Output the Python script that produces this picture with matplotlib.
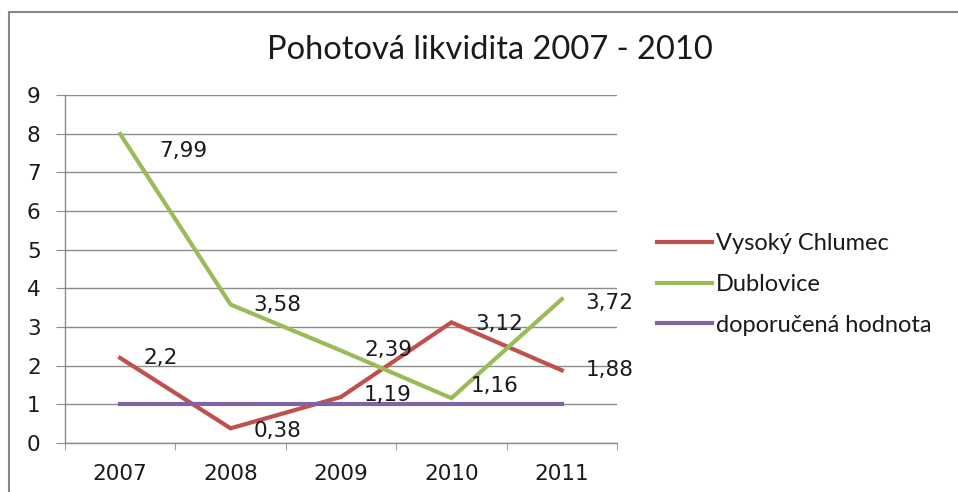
import matplotlib
matplotlib.use("Agg")
import matplotlib.pyplot as plt
from matplotlib.patches import Rectangle

# data
years = ["2007", "2008", "2009", "2010", "2011"]
vysoky_chlumec = [2.2, 0.38, 1.19, 3.12, 1.88]
dublovice = [7.99, 3.58, 2.39, 1.16, 3.72]
doporucena = [1, 1, 1, 1, 1]
vc_labels = ["2,2", "0,38", "1,19", "3,12", "1,88"]
du_labels = ["7,99", "3,58", "2,39", "1,16", "3,72"]

RED = "#C0504D"
GREEN = "#9BBB59"
PURPLE = "#8064A2"
GRID = "#8c8c8c"
TXT_FONT = ["Lato", "DejaVu Sans"]

fig = plt.figure(figsize=(9.58, 4.92), dpi=100)
ax = fig.add_axes([65 / 958, 1 - 443 / 492, 552 / 958, 348 / 492])

x = list(range(len(years)))
ax.plot(x, vysoky_chlumec, color=RED, lw=3, label="Vysoký Chlumec",
        solid_joinstyle="miter", zorder=3)
ax.plot(x, dublovice, color=GREEN, lw=3, label="Dublovice",
        solid_joinstyle="miter", zorder=3)
ax.plot(x, doporucena, color=PURPLE, lw=3, label="doporučená hodnota", zorder=3)

# data labels (offsets in pixels, mostly to the right of the point)
du_off = [(63, -17), (47, 0), (47, 1), (43, 12), (48, -4)]
vc_off = [(40, 0), (47, -3), (47, 2), (48, -2), (48, 0)]
for xi, v, lab, off in zip(x, dublovice, du_labels, du_off):
    ax.annotate(lab, (xi, v), xytext=off, textcoords="offset pixels",
                ha="center", va="center", fontsize=15.5, color="#1a1a1a")
for xi, v, lab, off in zip(x, vysoky_chlumec, vc_labels, vc_off):
    ax.annotate(lab, (xi, v), xytext=off, textcoords="offset pixels",
                ha="center", va="center", fontsize=15.5, color="#1a1a1a")

ax.set_xlim(-0.5, len(years) - 0.5)
ax.set_ylim(0, 9)
ax.set_yticks(range(0, 10))
ax.set_xticks(x)
ax.set_xticklabels(years)
ax.set_xticks([i - 0.5 for i in range(len(years) + 1)], minor=True)
ax.grid(axis="y", color=GRID, lw=1)
ax.set_axisbelow(True)

for s in ["top", "right"]:
    ax.spines[s].set_visible(False)
for s in ["left", "bottom"]:
    ax.spines[s].set_color(GRID)
    ax.spines[s].set_linewidth(1)

ax.tick_params(axis="y", length=6.5, color=GRID, pad=11, labelsize=15.5,
               labelcolor="#1a1a1a")
ax.tick_params(axis="x", which="major", length=0, pad=15, labelsize=15.5,
               labelcolor="#1a1a1a")
ax.tick_params(axis="x", which="minor", length=5, color=GRID)

fig.text(490 / 958, 1 - 50 / 492, "Pohotová likvidita 2007 - 2010",
         ha="center", va="center", fontsize=23.5, family=TXT_FONT, color="#1a1a1a")

leg = fig.legend(loc="upper left", bbox_to_anchor=(657 / 958, 1 - 233 / 492),
                 frameon=False, borderpad=0, borderaxespad=0,
                 handlelength=2.33, handletextpad=0.15, labelspacing=0.84,
                 prop={"family": TXT_FONT, "size": 17})
for t in leg.get_texts():
    t.set_color("#1a1a1a")

# outer chart frame
fig.patches.append(Rectangle((9 / 958, -0.1), 1.1, 1 - 12 / 492 + 0.1,
                             transform=fig.transFigure, fill=False,
                             edgecolor="#888888", lw=1.5, zorder=10))

fig.savefig("out.png", dpi=100)
